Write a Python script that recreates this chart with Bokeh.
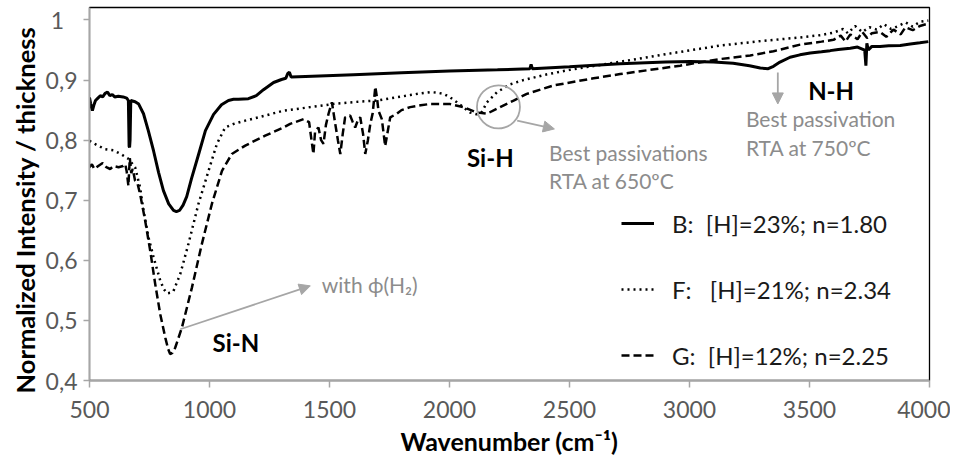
from bokeh.plotting import figure
from bokeh.models import (FixedTicker, CustomJSTickFormatter, Legend, LegendItem,
                          Label, Arrow, NormalHead, Range1d, Title)
from bokeh.embed import file_html
from bokeh.resources import INLINE

# ---------------- data ----------------
b_x = [500, 505, 512, 518, 525, 535, 545, 555, 565, 575, 585, 595, 605, 620, 640, 655, 662, 665, 667, 669,
       672, 690, 705, 725, 745, 767, 788, 808, 830, 850, 862, 875, 890, 905, 925, 955, 983, 1017, 1050, 1079,
       1100, 1120, 1162, 1195, 1225, 1267, 1300, 1318, 1326, 1333, 1340, 1400, 1600, 1800, 2000, 2200, 2335,
       2340, 2345, 2500, 2711, 2900, 3003, 3100, 3182, 3250, 3295, 3328, 3350, 3377, 3419, 3460, 3503, 3550,
       3586, 3620, 3670, 3700, 3730, 3735, 3739, 3745, 3760, 3794, 3830, 3878, 3920, 3960, 3995]
b_y = [0.871, 0.860, 0.849, 0.858, 0.866, 0.870, 0.874, 0.872, 0.878, 0.880, 0.874, 0.876, 0.872, 0.873,
       0.872, 0.870, 0.866, 0.790, 0.788, 0.800, 0.866, 0.864, 0.860, 0.844, 0.816, 0.782, 0.746, 0.716,
       0.694, 0.683, 0.681, 0.683, 0.692, 0.706, 0.736, 0.777, 0.816, 0.843, 0.859, 0.866, 0.868, 0.868,
       0.869, 0.874, 0.884, 0.896, 0.901, 0.903, 0.911, 0.913, 0.905, 0.906, 0.909, 0.912, 0.915, 0.917,
       0.919, 0.926, 0.919, 0.922, 0.927, 0.930, 0.931, 0.930, 0.928, 0.924, 0.920, 0.919, 0.923, 0.930,
       0.938, 0.942, 0.945, 0.947, 0.949, 0.951, 0.953, 0.955, 0.950, 0.924, 0.961, 0.950, 0.956, 0.956,
       0.957, 0.9575, 0.960, 0.962, 0.964]

f_x = [500, 530, 565, 600, 630, 662, 690, 711, 725, 746, 767, 795, 810, 823, 837, 850, 878, 912, 954, 996,
       1031, 1065, 1100, 1149, 1232, 1308, 1420, 1531, 1620, 1698, 1760, 1836, 1880, 1920, 1950, 1975, 2000,
       2031, 2060, 2086, 2114, 2135, 2156, 2198, 2253, 2308, 2400, 2500, 2711, 2900, 3128, 3300, 3461, 3550,
       3600, 3640, 3660, 3690, 3720, 3750, 3780, 3810, 3840, 3870, 3900, 3930, 3960, 3995]
f_y = [0.799, 0.792, 0.785, 0.783, 0.777, 0.769, 0.755, 0.721, 0.683, 0.638, 0.605, 0.566, 0.552, 0.545,
       0.546, 0.549, 0.577, 0.627, 0.694, 0.749, 0.794, 0.821, 0.827, 0.8325, 0.841, 0.849, 0.855, 0.861,
       0.864, 0.866, 0.870, 0.875, 0.878, 0.880, 0.879, 0.877, 0.872, 0.863, 0.854, 0.846, 0.843, 0.847,
       0.863, 0.880, 0.893, 0.900, 0.909, 0.917, 0.9305, 0.943, 0.9575, 0.965, 0.971, 0.975, 0.979, 0.985,
       0.978, 0.990, 0.980, 0.988, 0.984, 0.993, 0.985, 0.990, 0.996, 0.989, 0.997, 0.999]

g_x = [500, 510, 520, 538, 555, 570, 586, 600, 621, 640, 649, 655, 662, 668, 674, 680, 690, 700, 711, 732,
       753, 774, 795, 816, 828, 836, 845, 857, 885, 927, 968, 1010, 1052, 1093, 1149, 1232, 1308, 1336, 1392,
       1415, 1425, 1433, 1440, 1454, 1465, 1475, 1485, 1496, 1510, 1517, 1524, 1535, 1545, 1555, 1565, 1586,
       1597, 1607, 1620, 1628, 1640, 1649, 1660, 1670, 1680, 1691, 1698, 1704, 1718, 1732, 1745, 1753, 1781,
       1800, 1836, 1880, 1920, 2003, 2058, 2114, 2156, 2211, 2267, 2322, 2433, 2600, 2711, 2961, 3128, 3253,
       3350, 3461, 3550, 3600, 3630, 3650, 3670, 3700, 3720, 3740, 3760, 3794, 3820, 3850, 3880, 3900, 3930,
       3960, 3995]
g_y = [0.755, 0.760, 0.752, 0.7575, 0.762, 0.755, 0.752, 0.757, 0.755, 0.757, 0.760, 0.748, 0.724, 0.770,
       0.745, 0.752, 0.7325, 0.728, 0.710, 0.666, 0.616, 0.560, 0.510, 0.471, 0.452, 0.444, 0.446, 0.4545,
       0.488, 0.555, 0.627, 0.694, 0.749, 0.777, 0.791, 0.8075, 0.821, 0.827, 0.835, 0.830, 0.800, 0.777,
       0.815, 0.821, 0.800, 0.794, 0.825, 0.844, 0.863, 0.845, 0.827, 0.800, 0.777, 0.810, 0.838, 0.841,
       0.830, 0.821, 0.835, 0.838, 0.810, 0.777, 0.800, 0.827, 0.845, 0.889, 0.870, 0.849, 0.835, 0.790,
       0.820, 0.838, 0.844, 0.850, 0.855, 0.858, 0.8603, 0.860, 0.855, 0.846, 0.844, 0.855, 0.866, 0.877,
       0.891, 0.903, 0.910, 0.924, 0.935, 0.941, 0.948, 0.959, 0.964, 0.967, 0.974, 0.964, 0.976, 0.968,
       0.980, 0.970, 0.978, 0.980, 0.972, 0.984, 0.976, 0.988, 0.983, 0.990, 0.994]

series_labels = ["B:  [H]=23%; n=1.80", "F:   [H]=21%; n=2.34", "G:  [H]=12%; n=2.25"]
x_ticks = [500, 1000, 1500, 2000, 2500, 3000, 3500, 4000]
y_ticks = [0.4, 0.5, 0.6, 0.7, 0.8, 0.9, 1.0]

# annotation anchors (data units)
sin_label = (1110, 0.4630)
sih_label = (2170, 0.7713)
nh_label = (3590, 0.8825)
phi_label = (1468, 0.5603)
best650 = (2415, 0.7797, 0.7325)
best750 = (3235, 0.8353, 0.788)
arrow_sin = (878, 0.4853, 1420, 0.5575)
arrow_sih = (2282, 0.8325, 2437, 0.8187)
arrow_nh = (3368, 0.9125, 3368, 0.8603)
circle_sih = (2204, 0.8553)

FONT = "Lato"
GRAY_TXT = "#8c8c8c"
GRAY_LN = "#a6a6a6"

p = figure(width=950, height=458, output_backend="svg", toolbar_location=None,
           x_range=Range1d(500, 4000), y_range=Range1d(0.4, 1.0208),
           min_border_left=89, min_border_right=21, min_border_top=7, min_border_bottom=78)
p.xgrid.visible = False
p.ygrid.visible = False
p.outline_line_color = "black"
p.outline_line_width = 1.3
p.background_fill_color = "white"
p.border_fill_color = "white"

r_b = p.line(b_x, b_y, line_color="black", line_width=3)
r_f = p.line(f_x, f_y, line_color="black", line_width=2.5, line_dash="2 4")
r_g = p.line(g_x, g_y, line_color="black", line_width=2.5, line_dash="8 4")

for ax in (p.xaxis[0], p.yaxis[0]):
    ax.axis_line_color = GRAY_LN
    ax.axis_line_width = 1.5
    ax.major_tick_line_color = GRAY_LN
    ax.major_tick_line_width = 1.5
    ax.minor_tick_line_color = None
    ax.major_tick_in = 0
    ax.major_label_text_font = FONT
    ax.major_label_text_font_size = "23px"
    ax.major_label_text_color = "#595959"
    ax.axis_label_text_font = FONT
    ax.axis_label_text_font_size = "25px"
    ax.axis_label_text_font_style = "bold"
    ax.axis_label_text_color = "black"

p.xaxis[0].ticker = FixedTicker(ticks=x_ticks)
p.yaxis[0].ticker = FixedTicker(ticks=y_ticks)
p.yaxis[0].formatter = CustomJSTickFormatter(
    code="const s = (Math.round(tick*10)/10).toString(); "
         "return s === '1' ? '1\u2007' : s.replace('.', ',');")
p.xaxis[0].major_tick_out = 7
p.yaxis[0].major_tick_out = 6
p.xaxis[0].major_label_standoff = 13
p.yaxis[0].major_label_standoff = 6
p.xaxis[0].axis_label = "Wavenumber (cm\u207b\u00b9)"
p.xaxis[0].axis_label_standoff = 5

# y-axis title, starting near the bottom like the original
p.add_layout(Title(text="Normalized Intensity / thickness", align="left", offset=-13,
                   text_font=FONT, text_font_size="25.5px", text_font_style="bold",
                   text_color="black", standoff=5), "left")

legend = Legend(items=[LegendItem(label=series_labels[0], renderers=[r_b]),
                       LegendItem(label=series_labels[1], renderers=[r_f]),
                       LegendItem(label=series_labels[2], renderers=[r_g])],
                location=(532, 10), padding=0, margin=0, spacing=36,
                glyph_width=33, glyph_height=30, label_height=30, label_standoff=18,
                label_text_font=FONT, label_text_font_size="24px", label_text_color="#1a1a1a",
                border_line_color=None, background_fill_alpha=0)
p.add_layout(legend, "center")

def lab(x, y, text, color="black", bold=False, size="20px", align="left"):
    p.add_layout(Label(x=x, y=y, text=text, text_font=FONT, text_font_size=size,
                       text_font_style="bold" if bold else "normal", text_color=color,
                       text_align=align, text_baseline="middle"))

lab(sin_label[0], sin_label[1], "Si-N", bold=True, size="24px", align="center")
lab(sih_label[0], sih_label[1], "Si-H", bold=True, size="24px", align="center")
lab(nh_label[0], nh_label[1], "N-H", bold=True, size="24px", align="center")
lab(phi_label[0], phi_label[1], "with \u03d5(H\u2082)", color=GRAY_TXT, size="21px")
lab(best650[0], best650[1], "Best passivations", color=GRAY_TXT, size="21px")
lab(best650[0], best650[2], "RTA at 650\u00baC", color=GRAY_TXT, size="21px")
lab(best750[0], best750[1], "Best passivation", color=GRAY_TXT, size="21px")
lab(best750[0], best750[2], "RTA at 750\u00baC", color=GRAY_TXT, size="21px")

for (xs, ys, xe, ye) in (arrow_sin, arrow_sih, arrow_nh):
    p.add_layout(Arrow(end=NormalHead(size=11, fill_color=GRAY_LN, line_color=GRAY_LN),
                       x_start=xs, y_start=ys, x_end=xe, y_end=ye,
                       line_color=GRAY_LN, line_width=1.8))

p.scatter([circle_sih[0]], [circle_sih[1]], marker="circle", size=43, fill_color=None,
          line_color=GRAY_LN, line_width=1.8)

open("out.html", "w").write(file_html(p, INLINE))
